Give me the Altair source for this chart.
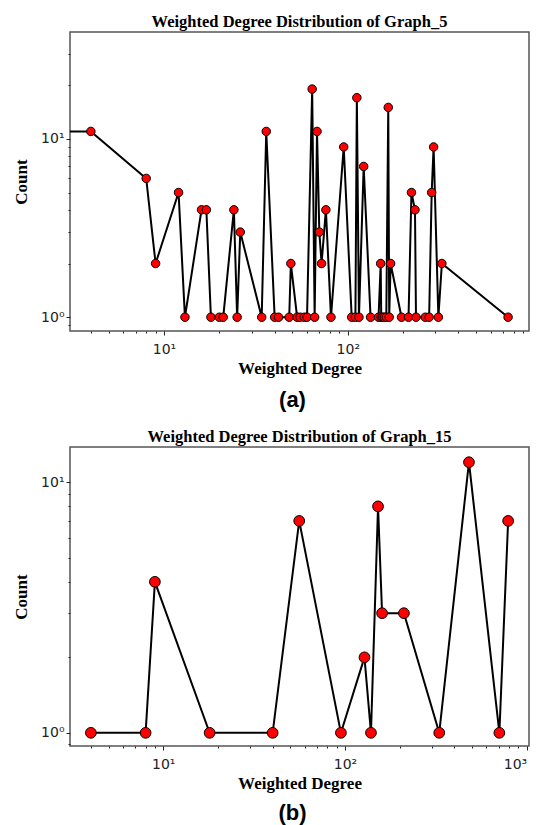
import altair as alt
import pandas as pd

# ---- Graph_5 (panel a) ----
# the first entry (degree 1) sits left of the visible range: only its line segment shows
deg5 = [1, 4, 8, 9, 12, 13, 16, 17, 18, 20, 21, 24, 25, 26, 34, 36, 40, 42, 48, 49,
        53, 55, 58, 60, 64, 66, 68, 70, 72, 76, 81, 95, 105, 110, 112, 115, 122, 133,
        147, 151, 152, 155, 158, 162, 166, 168, 171, 196, 214, 222, 232, 235, 264, 277,
        286, 293, 311, 325, 745]
cnt5 = [11, 11, 6, 2, 5, 1, 4, 4, 1, 1, 1, 4, 1, 3, 1, 11, 1, 1, 1, 2,
        1, 1, 1, 1, 19, 1, 11, 3, 2, 4, 1, 9, 1, 1, 17, 1, 7, 1,
        1, 2, 1, 1, 1, 1, 15, 1, 2, 1, 1, 5, 4, 1, 1, 1,
        5, 9, 1, 2, 1]

# ---- Graph_15 (panel b) ----
deg15 = [4, 8, 9, 18, 40, 56, 95, 128, 139, 152, 160, 211, 330, 481, 707, 790]
cnt15 = [1, 1, 4, 1, 1, 7, 1, 2, 1, 8, 3, 3, 1, 12, 1, 7]

titles = ["Weighted Degree Distribution of Graph_5", "Weighted Degree Distribution of Graph_15"]
tags = ["(a)", "(b)"]
x_title = "Weighted Degree"
y_title = "Count"

x_major_a = [10, 100]
x_major_b = [10, 100, 1000]
x_minor = [4, 5, 6, 7, 8, 9, 20, 30, 40, 50, 60, 70, 80, 90, 200, 300, 400, 500, 600, 700, 800, 900]
y_major = [1, 10]
y_minor_a = [0.9, 2, 3, 4, 5, 6, 7, 8, 9, 20, 30]
y_minor_b = [0.9, 2, 3, 4, 5, 6, 7, 8, 9]

SERIF = "Liberation Serif"
SANS = "DejaVu Sans"
LABEL_EXPR = ("datum.value == 1 ? '10⁰' : datum.value == 10 ? '10¹' : "
              "datum.value == 100 ? '10²' : datum.value == 1000 ? '10³' : ''")

W = 459


def panel(deg, cnt, xdom, ydom, xmajor, ymajor, yminor, title, tag, h, msize, tag_dy):
    df = pd.DataFrame({"deg": deg, "cnt": cnt})
    xs = alt.Scale(type="log", domain=xdom, nice=False, zero=False)
    ys = alt.Scale(type="log", domain=ydom, nice=False, zero=False)
    common = dict(grid=False, domain=False, tickColor="#222", tickWidth=1)
    ax_x_major = alt.Axis(values=xmajor, labelExpr=LABEL_EXPR, orient="bottom", title=x_title,
                          tickSize=4, labelFont=SANS, labelFontSize=14, labelColor="#222",
                          labelPadding=7, labelFlush=6, titleFont=SERIF, titleFontSize=17,
                          titleFontWeight="bold", titleColor="black", titlePadding=4, **common)
    ax_y_major = alt.Axis(values=ymajor, labelExpr=LABEL_EXPR, orient="left", title=y_title,
                          tickSize=4, labelFont=SANS, labelFontSize=14, labelColor="#222",
                          labelPadding=2, titleFont=SERIF, titleFontSize=17, titleFontWeight="bold",
                          titleColor="black", titlePadding=10, **common)
    ax_x_minor = alt.Axis(values=x_minor, labels=False, title=None, orient="bottom", tickSize=2, **common)
    ax_y_minor = alt.Axis(values=yminor, labels=False, title=None, orient="left", tickSize=2, **common)

    line = alt.Chart(df).mark_line(color="black", strokeWidth=2, clip=True).encode(
        x=alt.X("deg:Q", scale=xs, axis=ax_x_major),
        y=alt.Y("cnt:Q", scale=ys, axis=ax_y_major),
    )
    pts = alt.Chart(df).mark_circle(size=msize, color="red", opacity=1, stroke="black",
                                    strokeWidth=1, clip=True).encode(
        x=alt.X("deg:Q", scale=xs, axis=ax_x_minor),
        y=alt.Y("cnt:Q", scale=ys, axis=ax_y_minor),
    )
    tag_df = pd.DataFrame({"t": [tag]})
    tag_txt = alt.Chart(tag_df).mark_text(font="Liberation Sans", fontWeight="bold", fontSize=22,
                                          align="center", baseline="middle", color="black").encode(
        text="t:N", x=alt.value(W / 2 - 7), y=alt.value(h + tag_dy),
    )
    return alt.layer(line, pts, tag_txt).resolve_axis(x="independent", y="independent").properties(
        width=W, height=h,
        title=alt.TitleParams(title, font=SERIF, fontSize=16.5, fontWeight="bold", color="black",
                              anchor="middle", offset=2),
    )


top = panel(deg5, cnt5, [3.08, 968], [0.837, 39.7], x_major_a, y_major, y_minor_a,
            titles[0], tags[0], 299, 72, 69)
bottom = panel(deg15, cnt15, [3.07, 1029], [0.886, 13.8], x_major_b, y_major, y_minor_b,
               titles[1], tags[1], 299, 115, 67)

chart = alt.vconcat(top, bottom, spacing=15).configure_view(
    stroke="#555", strokeWidth=1.5
).properties(padding={"left": 3, "top": 4, "right": 0, "bottom": 0})

chart.save("out.html", embed_options={"renderer": "svg", "actions": False})
